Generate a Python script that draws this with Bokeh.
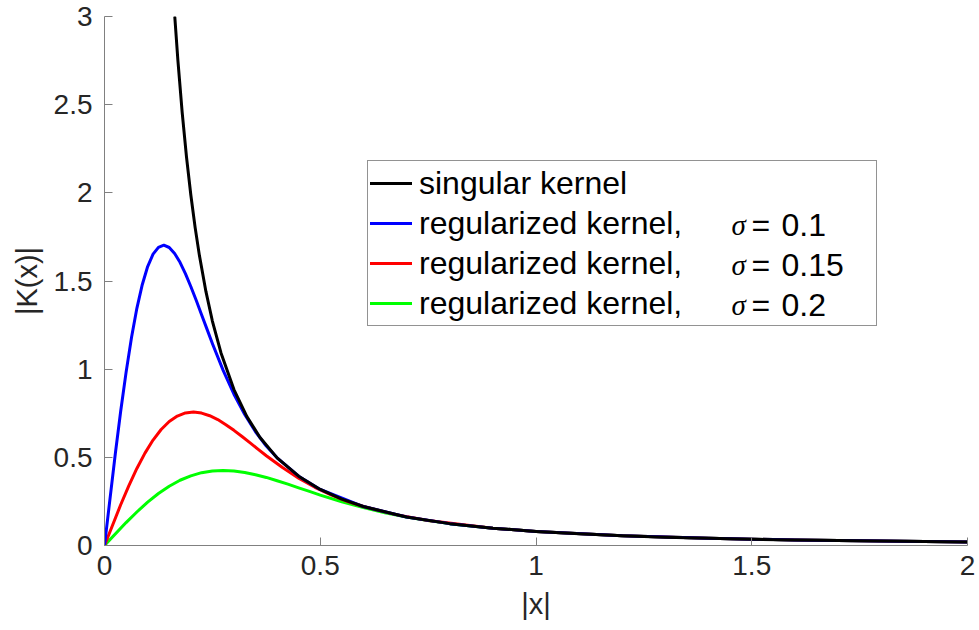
from bokeh.plotting import figure
from bokeh.models import (Range1d, FixedTicker, Legend, LegendItem, Label)
from bokeh.embed import file_html
from bokeh.resources import INLINE

# ---- data ----
x_sing = [0.163, 0.17, 0.18, 0.19, 0.2, 0.21, 0.22, 0.235, 0.25, 0.27, 0.3, 0.33, 0.36,
          0.4, 0.45, 0.5, 0.55, 0.6, 0.7, 0.8, 0.9, 1.0, 1.1, 1.2, 1.3, 1.4, 1.5, 1.6,
          1.7, 1.8, 1.9, 2.0]
y_sing = [2.995, 2.754, 2.456, 2.204, 1.989, 1.804, 1.644, 1.441, 1.273, 1.092, 0.884,
          0.731, 0.614, 0.497, 0.393, 0.318, 0.263, 0.221, 0.162, 0.124, 0.098, 0.080,
          0.066, 0.055, 0.047, 0.041, 0.035, 0.031, 0.028, 0.025, 0.022, 0.020]

x_s010 = [0, 0.025, 0.0375, 0.05, 0.0625, 0.075, 0.0875, 0.1, 0.1125, 0.125, 0.1375, 0.15,
          0.1625, 0.175, 0.1875, 0.2, 0.2125, 0.225, 0.2375, 0.25, 0.275, 0.3, 0.325,
          0.35, 0.375, 0.4, 0.45, 0.5, 0.6, 0.7, 0.8, 0.9, 1.0, 1.2, 1.4, 1.6, 1.8, 2.0]
y_s010 = [0, 0.519, 0.761, 0.982, 1.178, 1.345, 1.479, 1.582, 1.652, 1.691, 1.703, 1.690,
          1.656, 1.606, 1.542, 1.469, 1.391, 1.309, 1.227, 1.146, 0.993, 0.858, 0.743,
          0.645, 0.564, 0.497, 0.393, 0.318, 0.221, 0.162, 0.124, 0.098, 0.080, 0.055,
          0.041, 0.031, 0.025, 0.020]

x_s015 = [0, 0.0375, 0.05625, 0.075, 0.09375, 0.1125, 0.13125, 0.15, 0.16875, 0.1875,
          0.20625, 0.225, 0.24375, 0.2625, 0.28125, 0.3, 0.31875, 0.3375, 0.35625, 0.375,
          0.4125, 0.45, 0.4875, 0.525, 0.5625, 0.6, 0.675, 0.75, 0.9, 1.0, 1.2, 1.4,
          1.6, 1.8, 2.0]
y_s015 = [0, 0.231, 0.338, 0.437, 0.524, 0.598, 0.658, 0.703, 0.734, 0.752, 0.757, 0.751,
          0.736, 0.714, 0.685, 0.653, 0.618, 0.582, 0.545, 0.509, 0.442, 0.382, 0.330,
          0.287, 0.251, 0.221, 0.175, 0.142, 0.098, 0.080, 0.055, 0.041, 0.031, 0.025,
          0.020]

x_s020 = [0, 0.05, 0.075, 0.1, 0.125, 0.15, 0.175, 0.2, 0.225, 0.25, 0.275, 0.3, 0.325,
          0.35, 0.375, 0.4, 0.425, 0.45, 0.475, 0.5, 0.55, 0.6, 0.65, 0.7, 0.75, 0.8,
          0.9, 1.0, 1.2, 1.4, 1.6, 1.8, 2.0]
y_s020 = [0, 0.130, 0.190, 0.246, 0.295, 0.336, 0.370, 0.395, 0.413, 0.423, 0.426, 0.423,
          0.414, 0.401, 0.386, 0.367, 0.348, 0.327, 0.307, 0.286, 0.248, 0.215, 0.186,
          0.161, 0.141, 0.124, 0.098, 0.080, 0.055, 0.041, 0.031, 0.025, 0.020]

x_ticks = [0, 0.5, 1, 1.5, 2]
x_tick_labels = ["0", "0.5", "1", "1.5", "2"]
y_ticks = [0, 0.5, 1, 1.5, 2, 2.5, 3]
y_tick_labels = ["0", "0.5", "1", "1.5", "2", "2.5", "3"]

legend_labels = ["singular kernel", "regularized kernel,", "regularized kernel,",
                 "regularized kernel,"]
sigma_values = ["0.1", "0.15", "0.2"]

FONT = "Liberation Sans"
TXT = "#262626"

W, H = 979, 630
L, R, T, B = 104, 12, 16, 85
X0, X1, Y0, Y1 = 0, 2, 0, 3

p = figure(width=W, height=H, output_backend="svg", toolbar_location=None,
           x_range=Range1d(X0, X1), y_range=Range1d(Y0, Y1),
           min_border_left=L, min_border_right=R, min_border_top=T, min_border_bottom=B)
p.outline_line_color = None
p.grid.visible = False
p.background_fill_color = "white"
p.border_fill_color = "white"

lw = 3
r_g = p.line(x_s020, y_s020, color="#00FF00", line_width=lw, line_join="round", line_cap="round")
r_r = p.line(x_s015, y_s015, color="#FF0000", line_width=lw, line_join="round", line_cap="round")
r_b = p.line(x_s010, y_s010, color="#0000FF", line_width=lw, line_join="round", line_cap="round")
r_k = p.line(x_sing, y_sing, color="#000000", line_width=lw, line_join="round", line_cap="round")

for ax, ticks, labels in ((p.xaxis, x_ticks, x_tick_labels), (p.yaxis, y_ticks, y_tick_labels)):
    ax.ticker = FixedTicker(ticks=ticks)
    ax.major_label_overrides = {t: s for t, s in zip(ticks, labels)}
    ax.minor_tick_line_color = None
    ax.major_tick_in = 8
    ax.major_tick_out = 0
    ax.axis_line_color = "#808080"
    ax.major_tick_line_color = "#808080"
    ax.major_label_text_font = FONT
    ax.major_label_text_font_size = "28px"
    ax.major_label_text_color = TXT
    ax.axis_label_text_font = FONT
    ax.axis_label_text_font_size = "29px"
    ax.axis_label_text_font_style = "normal"
    ax.axis_label_text_color = TXT

p.xaxis.axis_label = "|x|"
p.yaxis.axis_label = "|K(x)|"
p.xaxis.major_label_standoff = 10
p.yaxis.major_label_standoff = 12
p.xaxis.axis_label_standoff = 10
p.yaxis.axis_label_standoff = 8

# legend
frame_w = W - L - R
frame_h = H - T - B
box_left_px, box_bottom_px = 367, 326
LEG_FS = "32px"
legend = Legend(
    items=[LegendItem(label=legend_labels[0], renderers=[r_k]),
           LegendItem(label=legend_labels[1], renderers=[r_b]),
           LegendItem(label=legend_labels[2], renderers=[r_r]),
           LegendItem(label=legend_labels[3], renderers=[r_g])],
    location=(box_left_px - L, (T + frame_h) - box_bottom_px),
    padding=2, spacing=0, margin=0,
    glyph_width=42, glyph_height=40, label_height=40, label_width=455,
    label_standoff=7,
    label_text_font=FONT, label_text_font_size=LEG_FS, label_text_color="#000000",
    border_line_color="#262626", border_line_width=1,
    background_fill_alpha=0.0,
)
p.add_layout(legend, "center")


def dx(px):
    return X0 + (px - L) * (X1 - X0) / frame_w


def dy(py):
    return Y0 + (T + frame_h - py) * (Y1 - Y0) / frame_h


for i, sv in enumerate(sigma_values):
    row_y = 224 + 40 * i
    p.add_layout(Label(x=dx(731), y=dy(row_y), text="σ", text_font="Liberation Serif",
                       text_font_style="italic", text_font_size="29px",
                       text_baseline="middle", text_color="#000000", level="overlay"))
    p.add_layout(Label(x=dx(751), y=dy(row_y), text="=", text_font=FONT,
                       text_font_size=LEG_FS, text_baseline="middle", text_color="#000000",
                       level="overlay"))
    p.add_layout(Label(x=dx(781), y=dy(row_y), text=sv, text_font=FONT,
                       text_font_size=LEG_FS, text_baseline="middle", text_color="#000000",
                       level="overlay"))

open("out.html", "w").write(file_html(p, INLINE))
